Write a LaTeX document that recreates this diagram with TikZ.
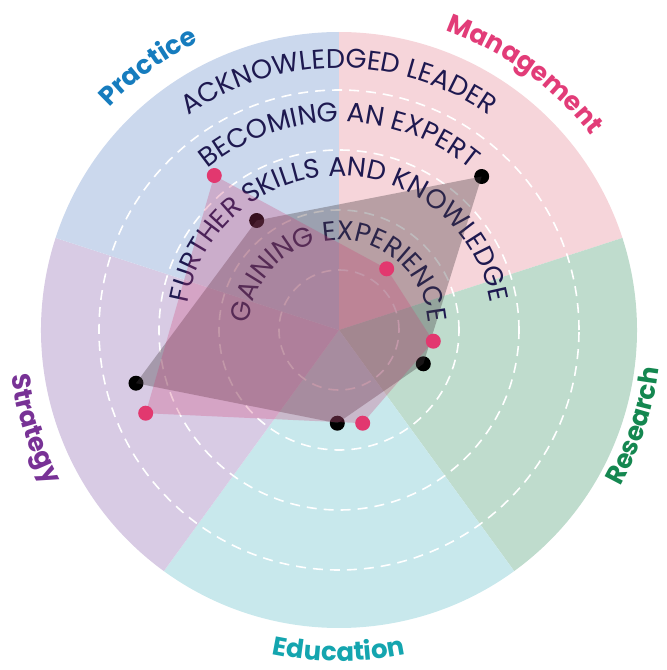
\documentclass[tikz,border=0pt]{standalone}
\usepackage{fontspec}
\newfontfamily\popfont{Poppins}
\newcommand\ringfnt{\popfont\fontsize{27}{27}\selectfont}
\newcommand\catfnt{\popfont\bfseries\fontsize{26}{26}\selectfont}
\usetikzlibrary{decorations.text}
\definecolor{pracbg}{RGB}{203,216,237}
\definecolor{mgmtbg}{RGB}{246,213,218}
\definecolor{resbg}{RGB}{191,220,205}
\definecolor{edubg}{RGB}{200,232,236}
\definecolor{stratbg}{RGB}{216,203,228}
\definecolor{pracc}{RGB}{22,124,190}
\definecolor{mgmtc}{RGB}{226,60,120}
\definecolor{resc}{RGB}{20,135,80}
\definecolor{educ}{RGB}{20,165,175}
\definecolor{stratc}{RGB}{120,50,150}
\definecolor{ringnavy}{RGB}{30,25,80}
\definecolor{dotpink}{RGB}{226,56,111}
\definecolor{polygray}{RGB}{70,60,65}
\definecolor{polypink}{RGB}{205,60,115}

\begin{document}
\begin{tikzpicture}[x=1pt,y=1pt,
  ring/.style={white,line width=1.6pt,dash pattern=on 10pt off 7pt},
  pink dot/.style={circle,fill=dotpink,inner sep=0pt,minimum size=15pt},
  black dot/.style={circle,fill=black,inner sep=0pt,minimum size=15pt},
  level text/.style={decorate,decoration={text along path,text align=center,
    text color=ringnavy,text={|\ringfnt|#1}}},
  cat text/.style 2 args={decorate,decoration={text along path,text align=center,
    text color=#1,text={|\catfnt|#2}}}]

  \useasboundingbox (-339,-340) rectangle (328,330);

  \foreach \a/\c in {18/mgmtbg,-54/resbg,-126/edubg,162/stratbg,90/pracbg}
    \fill[\c] (0,0) -- (\a:298) arc[start angle=\a,delta angle=72,radius=298] -- cycle;
  \foreach \r in {60,120,180,240}
    \draw[ring] (0,0) circle[radius=\r];

  \path[level text=GAINING EXPERIENCE] (180:90) arc[start angle=180,end angle=0,radius=90];
  \path[level text=FURTHER SKILLS AND KNOWLEDGE] (180:154) arc[start angle=180,end angle=0,radius=154];
  \path[level text=BECOMING AN EXPERT] (180:208) arc[start angle=180,end angle=0,radius=208];
  \path[level text=ACKNOWLEDGED LEADER] (180:262) arc[start angle=180,end angle=0,radius=262];

  \node[black dot] (b1) at (142.7,153.5) {};
  \node[black dot] (b2) at (84.3,-33.8) {};
  \node[black dot] (b3) at (-1.7,-93.2) {};
  \node[black dot] (b4) at (-203,-53.2) {};
  \node[black dot] (b5) at (-82.3,109.5) {};
  \fill[polygray,opacity=.35] (b1.center) -- (b2.center) -- (b3.center)
    -- (b4.center) -- (b5.center) -- cycle;

  \fill[polypink,opacity=.27] (-124.7,154.5) -- (47.7,61.2) -- (94.3,-11.2)
    -- (23.7,-93.2) -- (-193.3,-83.2) -- cycle;
  \node[pink dot] (p1) at (-124.7,154.5) {};
  \node[pink dot] (p2) at (47.7,61.2) {};
  \node[pink dot] (p3) at (94.3,-11.2) {};
  \node[pink dot] (p4) at (23.7,-93.2) {};
  \node[pink dot] (p5) at (-193.3,-83.2) {};

  \path[cat text={pracc}{Practice}] (186:320) arc[start angle=186,end angle=66,radius=320];
  \path[cat text={mgmtc}{Management}] (114:318) arc[start angle=114,end angle=-6,radius=318];
  \path[cat text={resc}{Research}] (-78:322) arc[start angle=-78,end angle=42,radius=322];
  \path[cat text={educ}{Education}] (-150:331) arc[start angle=-150,end angle=-30,radius=331];
  \path[cat text={stratc}{Strategy}] (138:331) arc[start angle=138,end angle=258,radius=331];
\end{tikzpicture}
\end{document}
